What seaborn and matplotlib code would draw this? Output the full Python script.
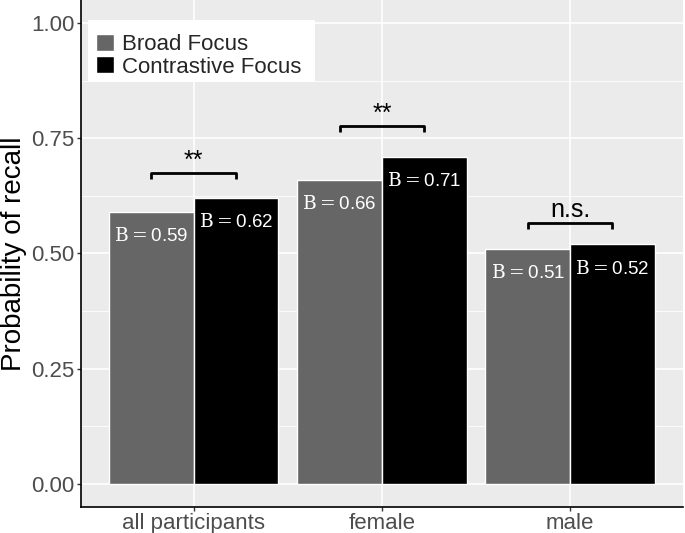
import pandas as pd
import matplotlib
matplotlib.use("Agg")
import matplotlib.pyplot as plt
from matplotlib.patches import Rectangle
import seaborn as sns

# Data
groups = ["all participants", "female", "male"]
conditions = ["Broad Focus", "Contrastive Focus"]
broad = [0.59, 0.66, 0.51]
contrastive = [0.62, 0.71, 0.52]
signif = ["**", "**", "n.s."]
bracket_y = [0.675, 0.777, 0.567]

df = pd.DataFrame({
    "group": groups * 2,
    "condition": [conditions[0]] * 3 + [conditions[1]] * 3,
    "recall": broad + contrastive,
})

sns.set_theme(style="darkgrid")
plt.rcParams["font.family"] = ["Liberation Sans", "DejaVu Sans"]
plt.rcParams["mathtext.fontset"] = "custom"
plt.rcParams["mathtext.rm"] = "DejaVu Serif"
plt.rcParams["mathtext.sf"] = "Liberation Sans"

fig = plt.figure(figsize=(6.85, 5.33), dpi=100)
ax = fig.add_axes([0.118, 0.049, 0.879, 0.951])
ax.set_facecolor("#EBEBEB")

sns.barplot(data=df, x="group", y="recall", hue="condition", hue_order=conditions,
            palette=["#666666", "#000000"], width=0.9, gap=0, saturation=1,
            edgecolor="white", linewidth=1, ax=ax, errorbar=None)

ax.set_xlim(-0.6, 2.6)
ax.set_ylim(-0.05, 1.05)
ax.set_yticks([0, 0.25, 0.5, 0.75, 1.0])
ax.set_yticklabels(["0.00", "0.25", "0.50", "0.75", "1.00"])
ax.set_yticks([0.125, 0.375, 0.625, 0.875], minor=True)
ax.grid(which="major", color="white", linewidth=1.2)
ax.grid(which="minor", axis="y", color="white", linewidth=0.6)
ax.set_axisbelow(True)

for s in ["top", "right"]:
    ax.spines[s].set_visible(False)
for s in ["left", "bottom"]:
    ax.spines[s].set_visible(True)
    ax.spines[s].set_color("black")
    ax.spines[s].set_linewidth(1.2)

ax.tick_params(axis="both", which="major", length=3, width=1, color="#333333",
               labelsize=16, labelcolor="#4D4D4D", bottom=True, left=True, pad=1.5)
ax.tick_params(axis="both", which="minor", length=0)
ax.set_xlabel("")
ax.set_ylabel("Probability of recall", fontsize=20, color="black")
ax.yaxis.set_label_coords(-0.089, 0.5)

# value labels inside bars
for cont, vals in zip(ax.containers, [broad, contrastive]):
    labels = [r"$\mathrm{B} = \mathsf{%.2f}$" % v for v in vals]
    ax.bar_label(cont, labels=labels, label_type="edge", padding=-24,
                 color="white", fontsize=13.5)

# significance brackets
b_bars = ax.containers[0].patches
c_bars = ax.containers[1].patches
for b, c, lab, yb in zip(b_bars, c_bars, signif, bracket_y):
    x0 = b.get_x() + b.get_width() / 2
    x1 = c.get_x() + c.get_width() / 2
    ax.plot([x0, x0, x1, x1], [yb - 0.013, yb, yb, yb - 0.013],
            color="black", linewidth=2, solid_capstyle="butt")
    ax.text((x0 + x1) / 2, yb + 0.011, lab, ha="center", va="baseline",
            fontsize=18, color="black")

# legend with a white box like ggplot's legend background
bg = Rectangle((88 / 685, 1 - 82 / 533), 227 / 685, 62 / 533,
               transform=fig.transFigure, facecolor="white",
               edgecolor="none", zorder=4, clip_on=False)
ax.add_artist(bg)
leg = ax.legend(loc="upper left", bbox_to_anchor=(96 / 685, 1 - 34 / 533),
                bbox_transform=fig.transFigure, title=None, fontsize=16,
                frameon=False, handlelength=0.8, handleheight=0.8,
                handletextpad=0.35, labelspacing=0.05, borderpad=0,
                borderaxespad=0)
leg.set_zorder(6)

fig.savefig("out.png", dpi=100)
